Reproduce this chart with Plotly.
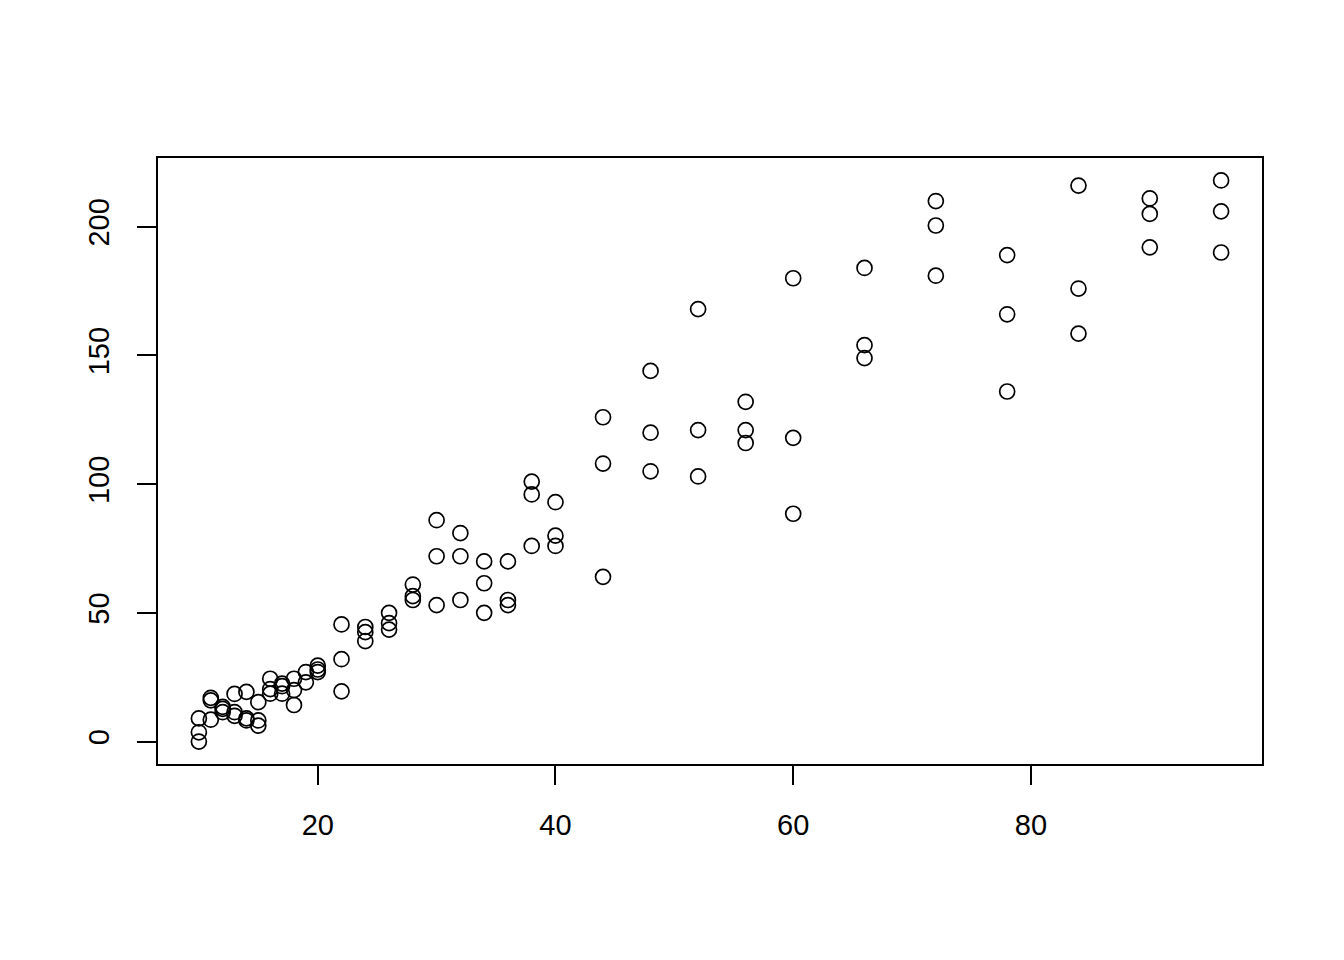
import plotly.graph_objects as go

# x values (3 observations each)
x_vals = [10, 10, 10, 11, 11, 11, 12, 12, 12, 13, 13, 13, 14, 14, 14,
          15, 15, 15, 16, 16, 16, 17, 17, 17, 18, 18, 18, 19, 19, 20, 20, 20,
          22, 22, 22, 24, 24, 24, 26, 26, 26, 28, 28, 28, 30, 30, 30,
          32, 32, 32, 34, 34, 34, 36, 36, 36, 38, 38, 38, 40, 40, 40,
          44, 44, 44, 48, 48, 48, 52, 52, 52, 56, 56, 56, 60, 60, 60,
          66, 66, 66, 72, 72, 72, 78, 78, 78, 84, 84, 84, 90, 90, 90,
          96, 96, 96]
y_vals = [9, 3.6, 0, 17, 16, 8.5, 13.5, 12.7, 11.4, 18.5, 11.4, 10, 19.3, 9, 8.2,
          15.3, 8.2, 6.2, 24.4, 20.4, 18.6, 22.5, 21.5, 18.6, 24.4, 20, 14.2, 27, 23, 29.5, 28, 27,
          45.5, 32, 19.5, 44.5, 42.5, 39, 50, 46, 43.5, 61, 56.5, 55, 86, 72, 53,
          81, 72, 55, 70, 61.5, 50, 70, 55, 53, 101, 96, 76, 93, 80, 76,
          126, 108, 64, 144, 120, 105, 168, 121, 103, 132, 121, 116, 180, 118, 88.5,
          184, 154, 149, 210, 200.5, 181, 189, 166, 136, 216, 176, 158.5, 211, 205, 192,
          218, 206, 190]

x_ticks = [20, 40, 60, 80]
y_ticks = [0, 50, 100, 150, 200]

fig = go.Figure()
fig.add_trace(go.Scatter(
    x=x_vals, y=y_vals, mode='markers',
    marker=dict(symbol='circle-open', size=15, color='black',
                line=dict(color='black', width=1.7)),
    showlegend=False))

axis_common = dict(showgrid=False, zeroline=False, showline=True, linecolor='black',
                   linewidth=1.5, mirror=True, ticks='outside', ticklen=19,
                   tickwidth=1.5, tickcolor='black',
                   tickfont=dict(family='Liberation Sans, Arial', size=29, color='black'))

fig.update_layout(
    width=1344, height=960,
    paper_bgcolor='white', plot_bgcolor='white',
    margin=dict(l=150, r=90, t=150, b=204),
    xaxis=dict(range=[6.56, 99.44], tickvals=x_ticks, ticklabelstandoff=15, **axis_common),
    yaxis=dict(range=[-8.72, 226.72], tickvals=y_ticks, tickangle=-90,
               ticklabelstandoff=17, **axis_common),
)

fig.write_html("out.html")
